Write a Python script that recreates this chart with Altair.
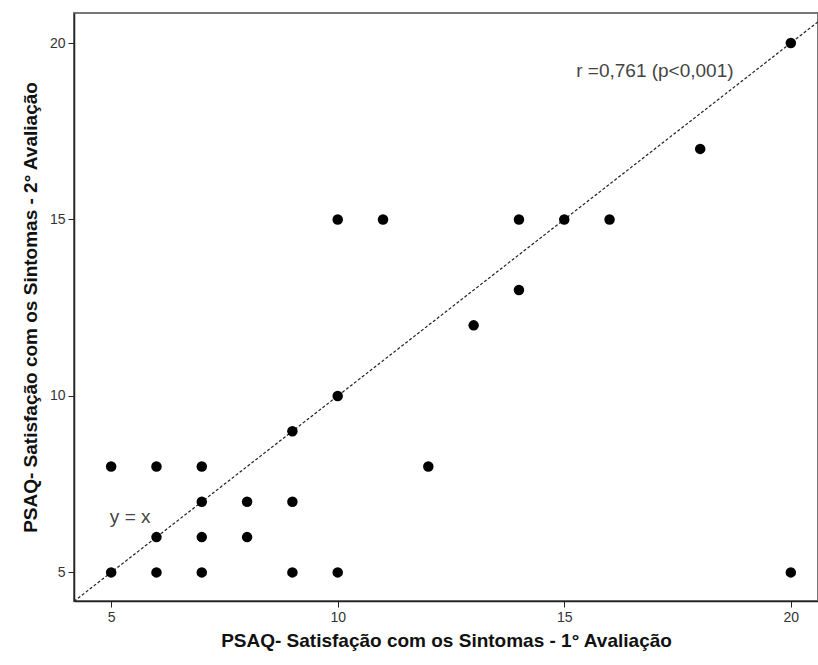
import altair as alt
import pandas as pd

x_vals = [5, 5, 6, 6, 6, 7, 7, 7, 7, 8, 8, 9, 9, 9, 10, 10, 10, 11, 12, 13, 14, 14, 15, 16, 18, 20, 20]
y_vals = [5, 8, 8, 6, 5, 8, 7, 6, 5, 7, 6, 9, 7, 5, 15, 10, 5, 15, 8, 12, 15, 13, 15, 15, 17, 20, 5]
ticks = [5, 10, 15, 20]
x_domain = [4.18, 20.6]
y_domain = [4.19, 20.85]
ref_line = [4.18, 20.6]

x_title = "PSAQ- Satisfação com os Sintomas - 1° Avaliação"
y_title = "PSAQ- Satisfação com os Sintomas - 2° Avaliação"

df = pd.DataFrame({"x": x_vals, "y": y_vals})
line_df = pd.DataFrame({"x": ref_line, "y": ref_line})
ann_df = pd.DataFrame({"x": [17.0, 5.42], "y": [19.2, 6.56], "t": ["r =0,761 (p<0,001)", "y = x"]})

xs = alt.Scale(domain=x_domain, nice=False, zero=False)
ys = alt.Scale(domain=y_domain, nice=False, zero=False)

xax = alt.Axis(values=ticks, title=x_title, grid=False, tickSize=6, labelPadding=3,
               titlePadding=7, domainColor="#222", tickColor="#222", domainWidth=1.5)
yax = alt.Axis(values=ticks, title=y_title, grid=False, tickSize=6, labelPadding=3,
               titlePadding=9, domainColor="#222", tickColor="#222", domainWidth=1.5)

line = alt.Chart(line_df).mark_line(color="#222", strokeWidth=1.2, strokeDash=[3, 2], clip=True).encode(
    x=alt.X("x:Q", scale=xs, axis=xax),
    y=alt.Y("y:Q", scale=ys, axis=yax),
)

pts = alt.Chart(df).mark_circle(size=110, color="black", opacity=1).encode(
    x=alt.X("x:Q", scale=xs),
    y=alt.Y("y:Q", scale=ys),
)

txt = alt.Chart(ann_df).mark_text(fontSize=19, color="#444", font="Liberation Sans").encode(
    x=alt.X("x:Q", scale=xs),
    y=alt.Y("y:Q", scale=ys),
    text="t:N",
)

chart = alt.layer(line, pts, txt).properties(
    width=744, height=588,
    background="white",
    autosize=alt.AutoSizeParams(type="none"),
    padding={"left": 74, "top": 13, "right": 0, "bottom": 64},
).configure_view(
    stroke="#777", strokeWidth=2
).configure_axis(
    labelFont="Liberation Sans", labelFontSize=14, labelColor="#333",
    titleFont="Liberation Sans", titleFontSize=19, titleFontWeight="bold", titleColor="#111",
)

chart.save("out.html", embed_options={"renderer": "svg", "actions": False})
